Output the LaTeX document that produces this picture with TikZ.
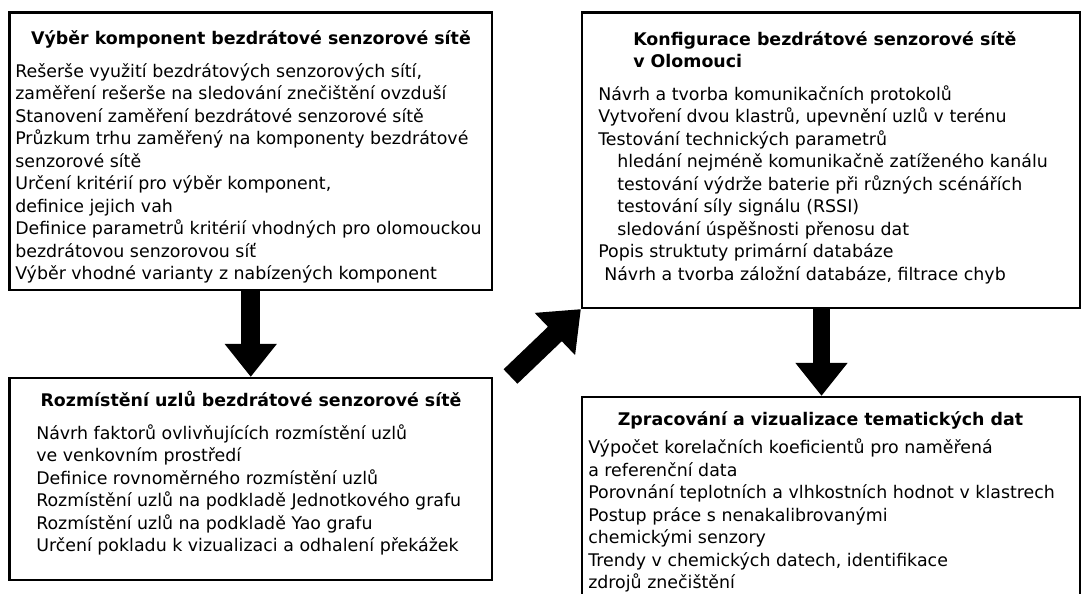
\documentclass[tikz,border=0pt]{standalone}
\usepackage{fontspec}
\setmainfont{DejaVu Sans}
\usetikzlibrary{arrows.meta}
\newcommand{\bodyfont}{\fontsize{13.05pt}{16.9pt}\selectfont}
\begin{document}
\begin{tikzpicture}[x=0.75pt,y=-0.75pt,
  box/.style={draw, line width=1.65pt, inner sep=0pt},
  item/.style={anchor=base west, inner sep=0pt, font=\bodyfont},
  heading/.style={anchor=base, inner sep=0pt, font=\bodyfont\bfseries},
  headingl/.style={anchor=base west, inner sep=0pt, font=\bodyfont\bfseries},
  flow/.style={line width=14.25pt, -{Triangle[width=37.5pt,length=24.75pt]}}]
\clip (0,0) rectangle (1082,593);

% frames of the four stages
\node[box, minimum width=361.875pt, minimum height=208.125pt] (b1) at (250.75,151.25) {};
\node[box, minimum width=373.5pt, minimum height=221.625pt] (b2) at (831,160.25) {};
\node[box, minimum width=361.875pt, minimum height=151.5pt] (b3) at (250.75,479) {};
\node[box, minimum width=373.5pt, minimum height=167.25pt] (b4) at (831,508.5) {};

% stage 1
\node[heading] (h1) at (251,44) {Výběr komponent bezdrátové senzorové sítě};
\foreach \t [count=\i from 0] in {
  {Rešerše využití bezdrátových senzorových sítí,},
  {zaměření rešerše na sledování znečištění ovzduší},
  {Stanovení zaměření bezdrátové senzorové sítě},
  {Průzkum trhu zaměřený na komponenty bezdrátové},
  {senzorové sítě},
  {Určení kritérií pro výběr komponent,},
  {definice jejich vah},
  {Definice parametrů kritérií vhodných pro olomouckou},
  {bezdrátovou senzorovou síť},
  {Výběr vhodné varianty z nabízených komponent}}
  \node[item] (l1-\i) at (15,77+22.5*\i) {\t};

% stage 2
\node[headingl] (h2a) at (633,45) {Konfigurace bezdrátové senzorové sítě};
\node[headingl] (h2b) at (633,67) {v Olomouci};
\foreach \t/\x [count=\i from 0] in {
  {Návrh a tvorba komunikačních protokolů}/598,
  {Vytvoření dvou klastrů, upevnění uzlů v terénu}/598,
  {Testování technických parametrů}/598,
  {hledání nejméně komunikačně zatíženého kanálu}/617,
  {testování výdrže baterie při různých scénářích}/617,
  {testování síly signálu (RSSI)}/617,
  {sledování úspěšnosti přenosu dat}/617,
  {Popis struktuty primární databáze}/598,
  {Návrh a tvorba záložní databáze, filtrace chyb}/604}
  \node[item] (l2-\i) at (\x,100+22.5*\i) {\t};

% stage 3
\node[heading] (h3) at (251,406) {Rozmístění uzlů bezdrátové senzorové sítě};
\foreach \t [count=\i from 0] in {
  {Návrh faktorů ovlivňujících rozmístění uzlů},
  {ve venkovním prostředí},
  {Definice rovnoměrného rozmístění uzlů},
  {Rozmístění uzlů na podkladě Jednotkového grafu},
  {Rozmístění uzlů na podkladě Yao grafu},
  {Určení pokladu k vizualizaci a odhalení překážek}}
  \node[item] (l3-\i) at (36,439+22.5*\i) {\t};

% stage 4
\node[heading] (h4) at (820.5,425) {Zpracování a vizualizace tematických dat};
\foreach \t [count=\i from 0] in {
  {Výpočet korelačních koeficientů pro naměřená},
  {a referenční data},
  {Porovnání teplotních a vlhkostních hodnot v klastrech},
  {Postup práce s nenakalibrovanými},
  {chemickými senzory},
  {Trendy v chemických datech, identifikace},
  {zdrojů znečištění}}
  \node[item] (l4-\i) at (588,453.5+22.5*\i) {\t};

% flow between the stages
\draw[flow] (b1.south) -- (b3.north);
\coordinate (tail) at (510.5,376.5);
\draw[flow, line width=15pt, -{Triangle[width=42pt,length=27pt]}] (tail) -- (b2.south west);
\draw[flow, line width=13pt] ([xshift=-7.125pt]b2.south) -- ([xshift=-7.125pt]b4.north);
\end{tikzpicture}
\end{document}
